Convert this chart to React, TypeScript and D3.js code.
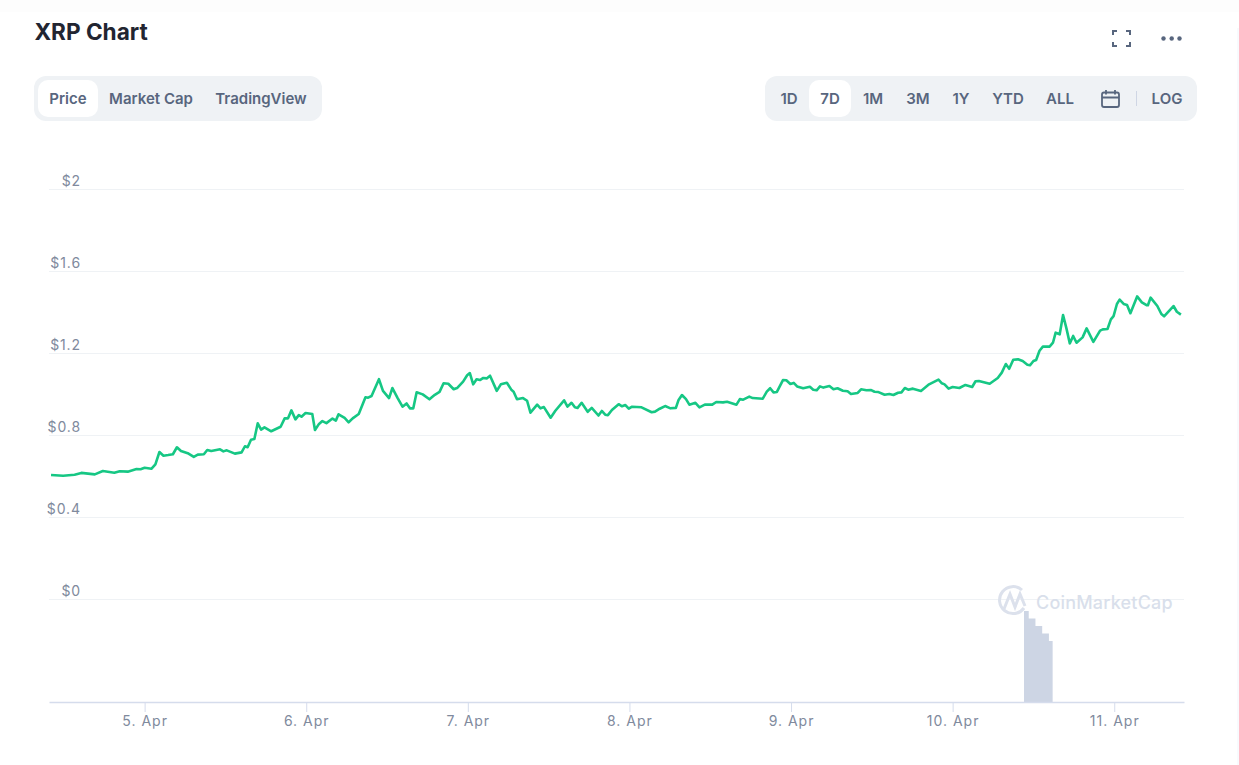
import { useEffect, useRef } from "react";
import * as d3 from "d3";

// hours since 5 Apr 00:00 UTC
const priceHours = [
  -13.9, -12.1, -10.4, -9.4, -7.4, -6.2, -4.5, -3.7, -2.5, -1.2, -0.6, 0, 1.0, 1.6, 2.2, 2.8, 3.5, 4.2, 4.8, 5.4,
  6.4, 7.3, 7.9, 8.8, 9.3, 9.9, 11.2, 11.7, 12.2, 13.4, 14.4, 14.9, 15.3, 15.8, 16.3, 16.8, 17.3, 17.8, 18.8, 20.2,
  20.8, 21.3, 21.8, 22.4, 22.9, 23.3, 23.9, 24.9, 25.3, 25.9, 26.4, 27.0, 27.9, 28.4, 28.8, 29.7, 30.3, 30.9, 31.8, 32.8,
  33.2, 33.7, 34.8, 35.4, 36.3, 36.8, 37.6, 38.3, 38.9, 39.4, 39.9, 40.4, 41.3, 42.3, 43.1, 43.8, 44.4, 45.1, 45.9, 46.4,
  47.3, 47.9, 48.3, 48.8, 49.3, 49.8, 50.3, 50.8, 51.3, 52.3, 52.9, 53.8, 54.5, 54.8, 55.3, 56.2, 56.8, 57.3, 58.3, 58.8,
  59.3, 60.3, 61.0, 62.3, 62.8, 63.4, 63.9, 64.3, 64.9, 65.8, 66.4, 67.4, 67.9, 68.4, 68.8, 69.4, 70.4, 70.9, 71.4, 71.9,
  72.4, 73.8, 75.3, 75.8, 76.5, 77.3, 78.1, 78.9, 79.3, 79.8, 80.4, 80.9, 81.8, 82.4, 83.2, 84.3, 84.9, 85.9, 86.5, 87.9,
  88.4, 88.9, 89.8, 90.3, 91.8, 92.4, 92.9, 93.4, 93.9, 94.8, 95.3, 95.9, 96.4, 96.9, 97.8, 98.8, 99.3, 99.8, 100.3, 100.8,
  101.7, 102.3, 102.9, 103.7, 104.4, 104.9, 105.9, 106.4, 107.2, 107.9, 108.4, 108.9, 109.9, 110.6, 111.2, 111.9, 112.4, 112.9, 113.4, 114.1,
  115.3, 116.5, 117.9, 118.4, 118.8, 119.4, 120.0, 121.0, 121.9, 122.9, 123.4, 123.9, 125.5, 126.7, 127.3, 127.9, 128.4, 129.0, 129.7, 130.4,
  131.1, 131.5, 132.0, 132.4, 132.9, 133.4, 134.4, 134.9, 135.3, 135.9, 136.4, 136.9, 137.4, 137.9, 138.4, 139.3, 139.9, 140.9, 141.9, 142.3,
  143.0, 143.5, 143.9, 144.4, 144.8, 145.4, 145.9, 146.4, 147.4, 148.1, 148.8, 149.0, 149.4, 150.4, 151.0, 151.4, 152.8, 153.3, 153.9,
];

const priceValues = [
  0.61, 0.606, 0.611, 0.62, 0.613, 0.629, 0.621, 0.628, 0.626, 0.639, 0.638, 0.645, 0.64, 0.662, 0.722, 0.704, 0.707, 0.711, 0.745, 0.727,
  0.716, 0.698, 0.709, 0.711, 0.732, 0.727, 0.735, 0.725, 0.73, 0.714, 0.72, 0.75, 0.745, 0.782, 0.785, 0.862, 0.831, 0.842, 0.823, 0.845,
  0.886, 0.886, 0.925, 0.881, 0.902, 0.894, 0.912, 0.907, 0.829, 0.859, 0.873, 0.863, 0.885, 0.875, 0.906, 0.888, 0.867, 0.886, 0.907, 0.989,
  0.987, 0.995, 1.077, 1.02, 0.985, 1.034, 0.984, 0.943, 0.959, 0.935, 0.935, 1.013, 1.003, 0.979, 1.001, 1.015, 1.057, 1.055, 1.028, 1.034,
  1.065, 1.096, 1.107, 1.052, 1.077, 1.073, 1.083, 1.081, 1.094, 1.02, 1.052, 1.06, 1.024, 1.016, 0.979, 0.985, 0.972, 0.914, 0.953, 0.935,
  0.941, 0.889, 0.923, 0.974, 0.943, 0.962, 0.94, 0.937, 0.962, 0.918, 0.937, 0.9, 0.922, 0.904, 0.902, 0.927, 0.955, 0.945, 0.951, 0.933,
  0.943, 0.94, 0.916, 0.919, 0.933, 0.946, 0.935, 0.937, 0.976, 1.0, 0.98, 0.953, 0.962, 0.94, 0.953, 0.953, 0.966, 0.964, 0.967, 0.953,
  0.98, 0.977, 0.992, 0.985, 0.982, 1.016, 1.033, 1.013, 1.015, 1.073, 1.072, 1.054, 1.059, 1.042, 1.033, 1.04, 1.026, 1.023, 1.042, 1.036,
  1.044, 1.028, 1.033, 1.021, 1.018, 1.005, 1.01, 1.028, 1.023, 1.024, 1.016, 1.015, 1.001, 1.005, 1.0, 1.011, 1.013, 1.034, 1.026, 1.031,
  1.02, 1.052, 1.075, 1.057, 1.052, 1.031, 1.039, 1.034, 1.049, 1.039, 1.067, 1.068, 1.055, 1.083, 1.109, 1.151, 1.128, 1.172, 1.174, 1.166,
  1.148, 1.145, 1.166, 1.171, 1.216, 1.236, 1.236, 1.255, 1.304, 1.296, 1.39, 1.325, 1.252, 1.288, 1.255, 1.281, 1.325, 1.259, 1.314, 1.32,
  1.322, 1.369, 1.385, 1.444, 1.465, 1.444, 1.439, 1.399, 1.481, 1.452, 1.438, 1.438, 1.475, 1.434, 1.395, 1.384, 1.434, 1.406, 1.392,
];

// last entry only closes the final step
const volumeHours = [130.6, 131.3, 132.3, 133.3, 134.3, 134.85];
const volumeValues = [36.4, 33.4, 30.4, 27.4, 24.4, 24.4];

const priceTicks = [0, 0.4, 0.8, 1.2, 1.6, 2];
const dayTicks = [0, 24, 48, 72, 96, 120, 144];
const leftTabs = ["Price", "Market Cap", "TradingView"];
const leftTabCenters = [68, 151, 261];
const rangeTabs = ["1D", "7D", "1M", "3M", "1Y", "YTD", "ALL", "LOG"];
const rangeTabCenters = [789, 830, 873, 918, 961, 1008, 1060, 1167];

const start = Date.UTC(2021, 3, 5);
const toDate = (h: number) => new Date(start + h * 3600000);
const font = "Inter, sans-serif";
const textColor = "#58667e";

export default function App() {
  const ref = useRef<SVGSVGElement>(null);

  useEffect(() => {
    if (!ref.current) return;
    const svg = d3.select(ref.current);
    svg.selectAll("*").remove();

    const x = d3.scaleUtc().domain([toDate(-14.2), toDate(154.36)]).range([49, 1184]);
    const y = d3.scaleLinear().domain([0, 2]).range([600, 190]);
    const yVol = d3.scaleLinear().domain([0, 40]).range([702, 602]);

    // page edges
    svg.append("rect").attr("width", 1239).attr("height", 12).attr("fill", "#fdfdfd");
    svg.append("rect").attr("x", 1237).attr("y", 28).attr("width", 2).attr("height", 737).attr("fill", "#f8fafd");

    svg.append("text")
      .attr("x", 34.4).attr("y", 40)
      .attr("font-family", font).attr("font-size", 22.6).attr("font-weight", 700)
      .attr("fill", "#222531")
      .text("XRP Chart");

    // button groups
    svg.append("rect").attr("x", 34).attr("y", 76).attr("width", 288).attr("height", 45).attr("rx", 12).attr("fill", "#eff2f5");
    svg.append("rect").attr("x", 38).attr("y", 80).attr("width", 60).attr("height", 37).attr("rx", 10).attr("fill", "#fff");
    svg.append("rect").attr("x", 765).attr("y", 76).attr("width", 432).attr("height", 45).attr("rx", 12).attr("fill", "#eff2f5");
    svg.append("rect").attr("x", 809).attr("y", 80).attr("width", 42).attr("height", 37).attr("rx", 10).attr("fill", "#fff");

    const tabs = [
      ...leftTabs.map((t, i) => ({ t, c: leftTabCenters[i] })),
      ...rangeTabs.map((t, i) => ({ t, c: rangeTabCenters[i] })),
    ];
    svg.append("g").selectAll("text").data(tabs).enter().append("text")
      .attr("x", (d) => d.c).attr("y", 104)
      .attr("text-anchor", "middle")
      .attr("font-family", font).attr("font-size", 15).attr("font-weight", 600)
      .attr("fill", textColor)
      .text((d) => d.t);

    // calendar, separator
    const cal = svg.append("g").attr("fill", "none").attr("stroke", textColor).attr("stroke-width", 1.8);
    cal.append("rect").attr("x", 1102).attr("y", 92.5).attr("width", 17).attr("height", 14.5).attr("rx", 2);
    cal.append("path").attr("d", "M1102 97.5H1119M1106 90V94.5M1115 90V94.5");
    svg.append("line").attr("x1", 1136.5).attr("x2", 1136.5).attr("y1", 91).attr("y2", 106).attr("stroke", "#cfd6e4");

    // fullscreen and more icons
    svg.append("path")
      .attr("d", "M1113 35V31H1117M1126 31H1130V35M1130 42V46H1126M1117 46H1113V42")
      .attr("fill", "none").attr("stroke", textColor).attr("stroke-width", 2);
    svg.append("g").selectAll("circle").data([1163.5, 1171.7, 1179.5]).enter().append("circle")
      .attr("cx", (d) => d).attr("cy", 38.5).attr("r", 2.2).attr("fill", textColor);

    // grid and price axis
    const yAxis = svg.append("g")
      .attr("transform", "translate(81,0)")
      .call(
        d3.axisLeft(y)
          .tickValues(priceTicks)
          .tickFormat((d) => `$${d}`)
          .tickSize(0)
          .tickPadding(0),
      );
    yAxis.select(".domain").remove();
    yAxis.selectAll("text")
      .attr("dy", -4.5)
      .attr("font-family", font).attr("font-size", 14).attr("letter-spacing", 0.9)
      .attr("fill", "#808a9d");

    svg.append("g").selectAll("line").data(priceTicks).enter().append("line")
      .attr("x1", 49).attr("x2", 1184)
      .attr("y1", (d) => y(d) - 0.5).attr("y2", (d) => y(d) - 0.5)
      .attr("stroke", "#eff2f5");

    // watermark
    const mark = svg.append("g").attr("fill", "none").attr("stroke", "#dce1ec").attr("stroke-width", 3);
    mark.append("path").attr("d", "M1024 608A13.5 13.5 0 1 1 1022 590");
    mark.append("path").attr("d", "M1004 609L1010 594L1015 607L1020 594L1025 606");
    svg.append("text")
      .attr("x", 1036).attr("y", 608.5)
      .attr("font-family", font).attr("font-size", 18).attr("font-weight", 500)
      .attr("letter-spacing", 0.2)
      .attr("fill", "#d9dfeb")
      .text("CoinMarketCap");

    // volume
    const volume = volumeHours.map((h, i) => ({ date: toDate(h), value: volumeValues[i] }));
    const volArea = d3.area<{ date: Date; value: number }>()
      .x((d) => x(d.date))
      .y0(yVol(0))
      .y1((d) => yVol(d.value))
      .curve(d3.curveStepAfter);
    svg.append("path").datum(volume).attr("d", volArea).attr("fill", "#cdd5e4");

    // time axis
    const xAxis = svg.append("g")
      .attr("transform", "translate(0,702)")
      .call(
        d3.axisBottom(x)
          .tickValues(dayTicks.map(toDate))
          .tickFormat((d) => d3.utcFormat("%-d. %b")(d as Date))
          .tickSize(10)
          .tickSizeOuter(0)
          .tickPadding(4),
      );
    xAxis.select(".domain").attr("stroke", "#d5dcec").attr("stroke-width", 1.5);
    xAxis.selectAll("line").attr("stroke", "#d5dcec");
    xAxis.selectAll("text")
      .attr("font-family", font).attr("font-size", 14).attr("letter-spacing", 1)
      .attr("fill", "#808a9d");

    // price line
    const price = priceHours.map((h, i) => ({ date: toDate(h), value: priceValues[i] }));
    const line = d3.line<{ date: Date; value: number }>()
      .x((d) => x(d.date))
      .y((d) => y(d.value));
    svg.append("path").datum(price)
      .attr("d", line)
      .attr("fill", "none")
      .attr("stroke", "#16c784")
      .attr("stroke-width", 2.6)
      .attr("stroke-linejoin", "round");
  }, []);

  return (
    <svg
      ref={ref}
      width={1239}
      height={765}
      style={{ position: "absolute", left: 0, top: 0, display: "block", background: "#fff" }}
    />
  );
}
